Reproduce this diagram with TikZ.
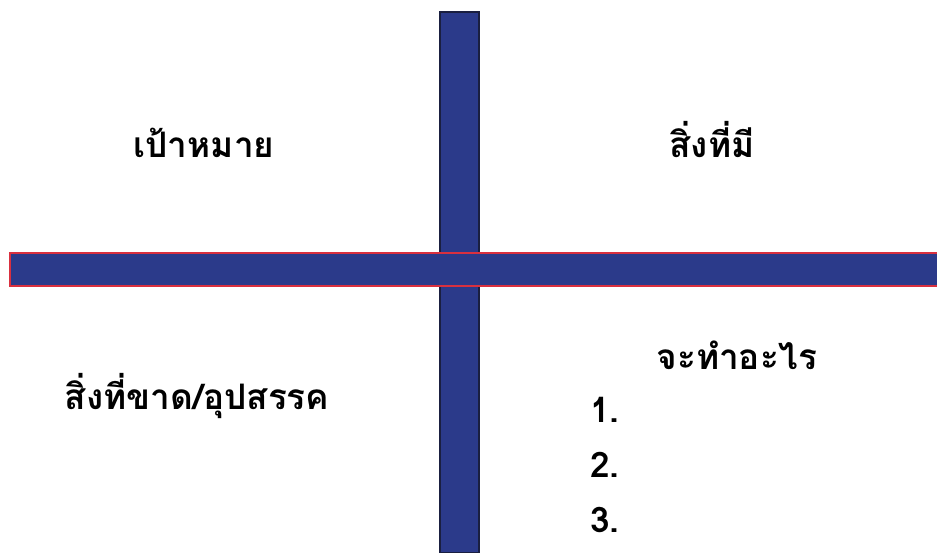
\documentclass[tikz,border=0pt]{standalone}
\usepackage{fontspec}
\usepackage{xcolor}
\usetikzlibrary{calc}
\newfontfamily\thaifont[Script=Thai]{Loma}
\definecolor{barblue}{HTML}{2B3A8A}
\definecolor{barred}{HTML}{D9303F}
\definecolor{baredge}{HTML}{1A1F40}
\tikzset{vbar/.style={fill=barblue,draw=baredge,line width=0.6pt},
  hbar/.style={fill=barblue,draw=barred,line width=0.6pt},
  lbl/.style={anchor=base,font=\thaifont\bfseries\fontsize{20}{24}\selectfont,inner sep=0pt},
  num/.style={anchor=base west,font=\thaifont\bfseries\fontsize{20}{24}\selectfont,inner sep=0pt}}

\begin{document}
\begin{tikzpicture}
\useasboundingbox (0,0) rectangle (18.74,11.06);
\coordinate (V1) at (8.8,0); \coordinate (V2) at (9.58,10.82);
\coordinate (H1) at (0.2,5.34); \coordinate (H2) at (18.8,6.0);
\draw[vbar] (V1) rectangle (V2);
\draw[hbar] (H1) rectangle (H2);
\node[lbl] (goal) at (4.08,7.9) {เป้าหมาย};
\node[lbl] (have) at (14.24,7.9) {สิ่งที่มี};
\node[lbl] (lack) at (3.94,2.86) {สิ่งที่ขาด/อุปสรรค};
\node[lbl] (todo) at (14.74,3.66) {จะทำอะไร};
\node[num] (n1) at (11.8,2.6) {1.};
\node[num] (n2) at (11.8,1.5) {2.};
\node[num] (n3) at (11.8,0.4) {3.};
\end{tikzpicture}
\end{document}
